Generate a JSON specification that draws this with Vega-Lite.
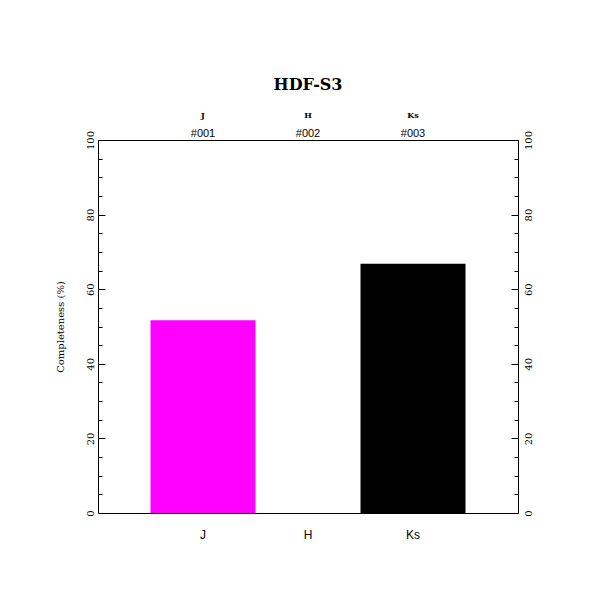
{
  "$schema": "https://vega.github.io/schema/vega-lite/v6.json",
  "width": 420,
  "height": 373,
  "autosize": "none",
  "padding": {"left": 98, "top": 140, "right": 93, "bottom": 98},
  "background": "white",
  "config": {
    "view": {"stroke": "black", "strokeWidth": 1},
    "axis": {"grid": false, "domain": false, "labelColor": "black", "tickColor": "black", "titleColor": "black"}
  },
  "title": {
    "text": "HDF-S3",
    "font": "DejaVu Serif",
    "fontSize": 16,
    "fontWeight": "bold",
    "color": "black",
    "anchor": "middle",
    "frame": "group",
    "offset": 18
  },
  "data": {
    "values": [
      {"band": "J", "code": "#001", "completeness": 51.7},
      {"band": "H", "code": "#002", "completeness": 0},
      {"band": "Ks", "code": "#003", "completeness": 66.8}
    ]
  },
  "resolve": {"axis": {"x": "independent", "y": "independent"}},
  "layer": [
    {
      "mark": {"type": "bar"},
      "encoding": {
        "x": {
          "field": "band", "type": "nominal", "sort": ["J", "H", "Ks"],
          "scale": {"paddingInner": 0, "paddingOuter": 0.5},
          "axis": {"orient": "bottom", "title": null, "ticks": false, "labelAngle": 0, "labelPadding": 16, "labelBaseline": "top", "labelFont": "Liberation Sans", "labelFontSize": 12}
        },
        "y": {
          "field": "completeness", "type": "quantitative",
          "scale": {"domain": [0, 100], "nice": false},
          "axis": {
            "orient": "left", "values": [0, 20, 40, 60, 80, 100], "tickSize": -7, "labelPadding": 12,
            "labelAngle": -90, "labelAlign": "center", "labelBaseline": "alphabetic",
            "labelFont": "DejaVu Serif", "labelFontSize": 10,
            "title": "Completeness (%)", "titleFont": "DejaVu Serif", "titleFontSize": 10, "titleFontWeight": "normal",
            "titleAngle": -90, "titleX": -38, "titleY": 186.5, "titleBaseline": "middle", "titleAlign": "center"
          }
        },
        "color": {
          "field": "band", "type": "nominal",
          "scale": {"domain": ["J", "H", "Ks"], "range": ["#ff00ff", "#00ff00", "#000000"]},
          "legend": null
        }
      }
    },
    {
      "mark": {"type": "bar", "opacity": 0},
      "encoding": {
        "x": {
          "field": "band", "type": "nominal", "sort": ["J", "H", "Ks"],
          "axis": {"orient": "top", "title": null, "ticks": false, "labelAngle": 0, "labelPadding": 4, "labelBaseline": "alphabetic",
            "labelExpr": "datum.label == 'J' ? '#001' : datum.label == 'H' ? '#002' : '#003'",
            "labelFont": "Liberation Sans", "labelFontSize": 11}
        },
        "y": {
          "field": "completeness", "type": "quantitative",
          "axis": {
            "orient": "right", "values": [0, 20, 40, 60, 80, 100], "tickSize": -7, "labelPadding": 12,
            "labelAngle": -90, "labelAlign": "center", "labelBaseline": "top",
            "labelFont": "DejaVu Serif", "labelFontSize": 10, "title": null
          }
        }
      }
    },
    {
      "mark": {"type": "bar", "opacity": 0},
      "encoding": {
        "x": {
          "field": "band", "type": "nominal", "sort": ["J", "H", "Ks"],
          "axis": {"orient": "top", "title": null, "ticks": false, "labelAngle": 0, "labelPadding": 23, "labelBaseline": "alphabetic",
            "labelFont": "DejaVu Serif", "labelFontSize": 8, "labelFontWeight": "bold"}
        },
        "y": {
          "field": "completeness", "type": "quantitative",
          "axis": {
            "orient": "left", "values": [5, 10, 15, 25, 30, 35, 45, 50, 55, 65, 70, 75, 85, 90, 95],
            "tickSize": -4, "labels": false, "title": null
          }
        }
      }
    },
    {
      "mark": {"type": "bar", "opacity": 0},
      "encoding": {
        "x": {"field": "band", "type": "nominal", "sort": ["J", "H", "Ks"], "axis": null},
        "y": {
          "field": "completeness", "type": "quantitative",
          "axis": {
            "orient": "right", "values": [5, 10, 15, 25, 30, 35, 45, 50, 55, 65, 70, 75, 85, 90, 95],
            "tickSize": -4, "labels": false, "title": null
          }
        }
      }
    }
  ]
}
